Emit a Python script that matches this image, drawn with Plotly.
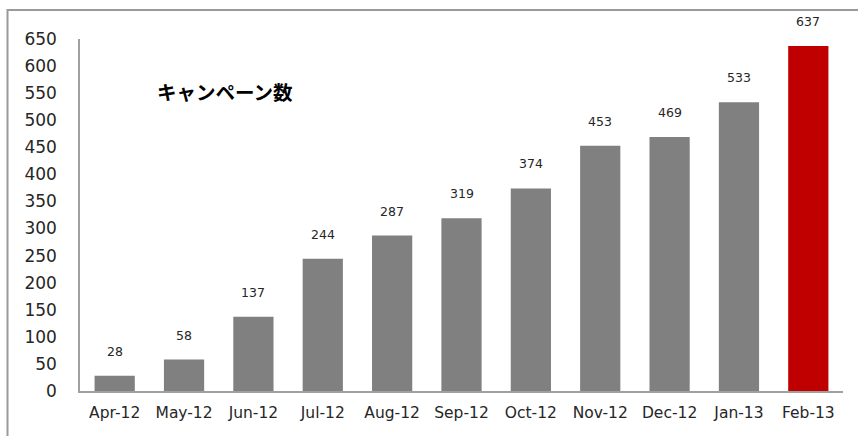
import plotly.graph_objects as go

months = ["Apr-12", "May-12", "Jun-12", "Jul-12", "Aug-12", "Sep-12",
          "Oct-12", "Nov-12", "Dec-12", "Jan-13", "Feb-13"]
campaigns = [28, 58, 137, 244, 287, 319, 374, 453, 469, 533, 637]
title_text = "キャンペーン数"
y_ticks = list(range(0, 651, 50))

colors = ["#808080"] * (len(months) - 1) + ["#C00000"]

W, H = 858, 436
ml, mr, mt, mb = 80, 15, 39, 45
pw, ph = W - ml - mr, H - mt - mb

fig = go.Figure()
fig.add_trace(go.Bar(x=months, y=campaigns, marker=dict(color=colors, line=dict(width=0)),
                     hoverinfo="x+y"))

for m, v in zip(months, campaigns):
    fig.add_annotation(x=m, y=v, text=str(v), showarrow=False, yanchor="bottom",
                       yshift=15, font=dict(family="DejaVu Sans, Verdana, sans-serif",
                                            size=12.5, color="#262626"))

fig.add_annotation(xref="paper", yref="paper",
                   x=(155 - ml) / pw, y=(391 - 92) / ph,
                   text="<b>" + title_text + "</b>", showarrow=False,
                   xanchor="left", yanchor="middle",
                   font=dict(family="Noto Sans CJK JP", size=19.5, color="#000000"))

# outer chart frame (extends beyond the visible window on right/bottom)
fig.add_shape(type="rect", xref="paper", yref="paper",
              x0=(7.5 - ml) / pw, y0=-1, x1=2, y1=(391 - 10) / ph,
              line=dict(color="#9A9A9A", width=2), fillcolor="rgba(0,0,0,0)", layer="above")

fig.update_layout(
    width=W, height=H,
    margin=dict(l=ml, r=mr, t=mt, b=mb, pad=0),
    paper_bgcolor="white", plot_bgcolor="white",
    bargap=0.42, showlegend=False,
    font=dict(family="DejaVu Sans, Verdana, sans-serif", color="#262626"),
    xaxis=dict(showgrid=False, showline=True, linecolor="#A0A0A0", linewidth=1.5,
               ticks="", tickfont=dict(size=15.5), ticklabelstandoff=7, zeroline=False,
               fixedrange=True),
    yaxis=dict(range=[0, 650], tickvals=y_ticks, showgrid=False, showline=True,
               linecolor="#A0A0A0", linewidth=1.5, ticks="", tickfont=dict(size=17),
               ticklabelstandoff=18, zeroline=False, fixedrange=True),
)

fig.write_html("out.html", config={"displayModeBar": False},
               post_script="document.body.style.margin='0';document.body.style.overflow='hidden';")
